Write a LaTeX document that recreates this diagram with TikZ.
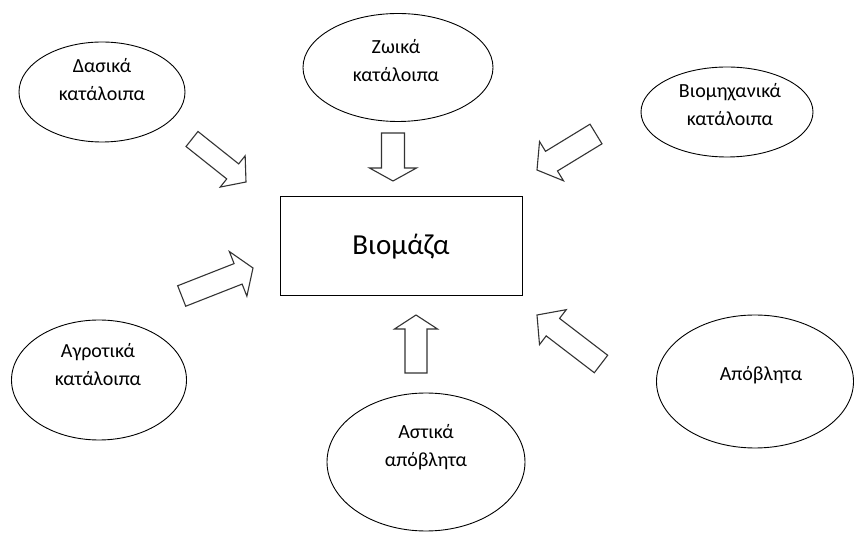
\documentclass[tikz,border=0pt]{standalone}
\usepackage{fontspec}
\setmainfont{Carlito}
\usetikzlibrary{calc,shapes.geometric}

\tikzset{
  blob/.style={draw=black, line width=0.9pt, ellipse, inner sep=0pt},
  blobtext/.style={align=center, font=\fontsize{20}{28}\selectfont, inner sep=0pt},
  mainbox/.style={draw=black, line width=1pt, minimum width=242pt, minimum height=99pt,
                  font=\fontsize{29}{34}\selectfont},
  fatarrow/.style={draw=black!80, line width=1.1pt, line join=miter, fill=white}
}

% block arrow: name, tail point, tip point, half shaft width, half head width, head length
\newcommand\fatarrowfrom[6]{%
  \coordinate (#1-t) at #2;
  \coordinate (#1-h) at #3;
  \coordinate (#1-b) at ($(#1-h)!#6!(#1-t)$);
  \draw[fatarrow]
    ($(#1-t)!#4!90:(#1-h)$) -- ($(#1-b)!#4!90:(#1-h)$) --
    ($(#1-b)!#5!90:(#1-h)$) -- (#1-h) --
    ($(#1-b)!#5!-90:(#1-h)$) -- ($(#1-b)!#4!-90:(#1-h)$) --
    ($(#1-t)!#4!-90:(#1-h)$) -- cycle;
}

\begin{document}
\begin{tikzpicture}[x=1pt, y=-1pt]
\useasboundingbox (0,0) rectangle (855,534);

% central box
\node[mainbox] (bio) at (401,246.5) {Βιομάζα};

% source ellipses
\node[blob, minimum width=166pt, minimum height=100pt] (forest) at (102,92) {};
\node[blobtext] (forestT) at (102,80) {Δασικά\\κατάλοιπα};

\node[blob, minimum width=190pt, minimum height=108pt] (animal) at (398,67.5) {};
\node[blobtext] (animalT) at (396,61) {Ζωικά\\κατάλοιπα};

\node[blob, minimum width=172pt, minimum height=90pt] (industry) at (727,112) {};
\node[blobtext] (industryT) at (730,105) {Βιομηχανικά\\κατάλοιπα};

\node[blob, minimum width=175pt, minimum height=120pt] (agro) at (99,380) {};
\node[blobtext] (agroT) at (98,365) {Αγροτικά\\κατάλοιπα};

\node[blob, minimum width=198pt, minimum height=138pt] (urban) at (426,462) {};
\node[blobtext] (urbanT) at (426,447) {Αστικά\\απόβλητα};

\node[blob, minimum width=197pt, minimum height=133pt] (waste) at (755,381.5) {};
\node[blobtext] (wasteT) at (761,375) {Απόβλητα};

% block arrows pointing at the box
\fatarrowfrom{a1}{(192,139)}{(246,182)}{9.6pt}{20pt}{17pt}
\fatarrowfrom{a2}{(393,133)}{(393,181)}{11.5pt}{23.5pt}{13pt}
\fatarrowfrom{a3}{(596,134)}{(537,170)}{11.5pt}{23pt}{17pt}
\fatarrowfrom{a4}{(181.7,296)}{(253,268)}{11pt}{24pt}{16pt}
\fatarrowfrom{a5}{(416,373)}{(416,315)}{11pt}{21.5pt}{14pt}
\fatarrowfrom{a6}{(601,364)}{(537,315)}{11pt}{22pt}{20pt}
\end{tikzpicture}
\end{document}
